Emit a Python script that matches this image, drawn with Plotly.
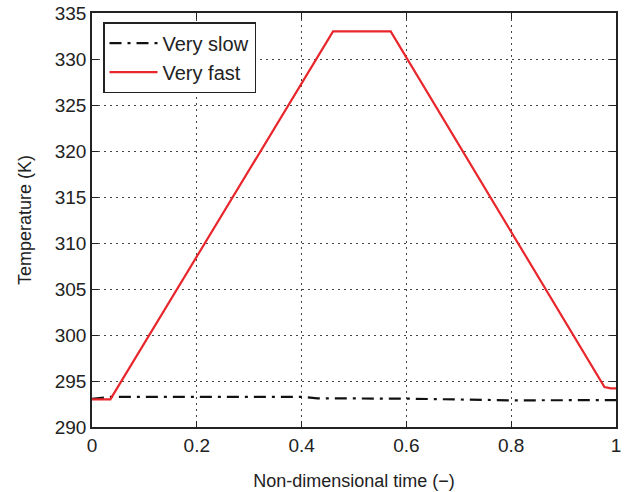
import plotly.graph_objects as go

# Data
slow_t = [0.0, 0.035, 0.40, 0.43, 0.60, 0.70, 0.80, 1.0]
slow_T = [293.05, 293.28, 293.28, 293.12, 293.08, 292.95, 292.9, 292.92]

fast_t = [0.0, 0.035, 0.46, 0.57, 0.978, 0.99, 1.0]
fast_T = [293.0, 293.0, 333.0, 333.0, 294.35, 294.2, 294.2]

x_ticks = [0, 0.2, 0.4, 0.6, 0.8, 1]
x_ticklabels = ["0", "0.2", "0.4", "0.6", "0.8", "1"]
y_ticks = [290, 295, 300, 305, 310, 315, 320, 325, 330, 335]

fig = go.Figure()
fig.add_trace(go.Scatter(x=slow_t, y=slow_T, mode="lines", name="Very slow",
                         line=dict(color="#111111", width=2.2, dash="12px,6px,3px,6px")))
fig.add_trace(go.Scatter(x=fast_t, y=fast_T, mode="lines", name="Very fast",
                         line=dict(color="#e8262b", width=2.2)))

font = "Liberation Sans, Arial, sans-serif"
axis_common = dict(
    showline=True, linecolor="#222", linewidth=1.5, mirror="ticks",
    ticks="inside", ticklen=6, tickcolor="#222", automargin=False,
    showgrid=True, gridcolor="#444", gridwidth=1, griddash="2px,4px",
    zeroline=False, tickfont=dict(size=19, color="#222", family=font),
)
fig.update_xaxes(range=[0, 1], tickvals=x_ticks, ticktext=x_ticklabels,
                 title=dict(text="Non-dimensional time (\u2212)", font=dict(size=18, color="#222", family=font), standoff=20),
                 **axis_common)
fig.update_yaxes(range=[290, 335], tickvals=y_ticks,
                 title=dict(text="Temperature (K)", font=dict(size=18, color="#222", family=font), standoff=18),
                 **axis_common)
fig.update_layout(
    width=629, height=492,
    margin=dict(l=92, r=13, t=13, b=65),
    paper_bgcolor="white", plot_bgcolor="white",
    font=dict(family=font, color="#222"),
    legend=dict(x=0.021, y=0.978, xanchor="left", yanchor="top",
                bordercolor="#222", borderwidth=1.5, bgcolor="white",
                font=dict(size=20, family=font, color="#222"),
                itemwidth=48, tracegroupgap=0),
    showlegend=True,
)
fig.write_html("out.html", config={"displayModeBar": False},
               post_script="document.body.style.margin='0';document.body.style.overflow='hidden';")
